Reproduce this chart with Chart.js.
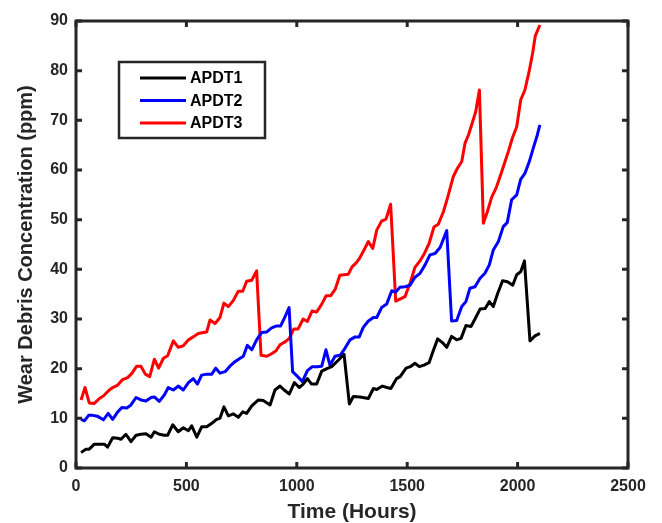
<!DOCTYPE html>
<html>
<head>
<meta charset="utf-8">
<script src="https://cdn.jsdelivr.net/npm/chart.js@4.4.0/dist/chart.umd.min.js"></script>
<style>
  html, body { margin: 0; padding: 0; background: #fff; }
  #wrap { width: 662px; height: 523px; position: relative; }
</style>
</head>
<body>
<div id="wrap"><canvas id="wearchart"></canvas></div>
<script>
// Wear debris readings
const hoursApdt1 = [23, 45, 60, 83, 106, 128, 143, 166, 189, 204, 226, 249, 272, 294, 317, 340, 355, 377, 400, 415,
  438, 463, 486, 509, 524, 547, 569, 592, 615, 637, 652, 670, 690, 713, 735, 755, 773, 796, 826, 848,
  879, 901, 924, 943, 966, 989, 1011, 1029, 1048, 1067, 1090, 1113, 1136, 1158, 1188, 1214, 1238, 1256, 1286, 1324,
  1347, 1362, 1388, 1408, 1426, 1452, 1468, 1495, 1514, 1535, 1555, 1576, 1599, 1618, 1638, 1658, 1679, 1701, 1724, 1744,
  1766, 1789, 1807, 1830, 1853, 1872, 1890, 1910, 1932, 1954, 1978, 1996, 2014, 2031, 2056, 2079, 2101];
const apdt1 = [3.1, 3.8, 3.8, 4.8, 4.8, 4.8, 4.2, 6.1, 6.0, 5.8, 6.8, 5.3, 6.6, 6.8, 6.9, 6.2, 7.3, 6.8, 6.6, 6.6,
  8.7, 7.3, 8.1, 7.5, 8.5, 6.2, 8.3, 8.3, 9.0, 9.8, 10.0, 12.3, 10.5, 10.9, 10.2, 11.3, 11.0, 12.5, 13.7, 13.6,
  12.7, 15.7, 16.5, 15.7, 14.9, 17.2, 16.2, 16.9, 18.0, 16.9, 16.9, 19.5, 20.0, 20.4, 21.7, 22.9, 12.9, 14.4, 14.3, 14.0,
  16.0, 15.8, 16.5, 16.2, 16.0, 18.0, 18.4, 20.1, 20.4, 21.1, 20.4, 20.7, 21.2, 23.6, 26.0, 25.3, 24.3, 26.5, 25.8, 26.1,
  28.7, 28.5, 30.0, 32.0, 32.1, 33.5, 32.5, 35.2, 37.7, 37.5, 36.8, 38.9, 39.5, 41.7, 25.6, 26.6, 27.1];

const hoursApdt2 = [23, 38, 57, 75, 98, 124, 146, 166, 189, 208, 230, 249, 272, 294, 317, 340, 355, 377, 400, 418,
  441, 463, 486, 509, 531, 550, 569, 592, 615, 633, 652, 675, 697, 720, 743, 758, 776, 796, 818, 841,
  864, 886, 909, 927, 947, 965, 981, 1004, 1025, 1048, 1070, 1093, 1113, 1132, 1150, 1173, 1196, 1218, 1241, 1264,
  1283, 1301, 1324, 1347, 1362, 1384, 1407, 1430, 1447, 1467, 1490, 1513, 1535, 1558, 1581, 1603, 1626, 1649, 1679, 1701,
  1724, 1747, 1766, 1784, 1807, 1830, 1852, 1872, 1890, 1913, 1935, 1953, 1973, 1996, 2014, 2033, 2053, 2071, 2089, 2101];
const apdt2 = [9.8, 9.5, 10.6, 10.6, 10.4, 9.7, 11.0, 9.8, 11.3, 12.2, 12.1, 12.7, 14.2, 13.7, 13.5, 14.2, 14.3, 13.4, 14.7, 16.2,
  15.7, 16.5, 15.7, 17.2, 18.0, 16.9, 18.7, 18.9, 18.9, 20.1, 19.1, 19.4, 20.5, 21.4, 22.1, 22.5, 24.7, 23.8, 25.8, 27.3,
  27.4, 28.2, 28.6, 28.6, 30.5, 32.3, 19.4, 18.4, 17.4, 19.6, 20.4, 20.4, 20.5, 23.8, 20.7, 22.5, 22.7, 24.1, 25.8, 26.4,
  26.4, 28.3, 29.6, 30.3, 30.3, 32.3, 33.0, 35.7, 35.4, 36.4, 36.5, 36.8, 38.4, 39.2, 40.9, 42.9, 43.2, 44.4, 47.8, 29.6,
  29.7, 32.5, 33.5, 36.2, 36.5, 38.2, 39.2, 40.9, 43.9, 45.6, 48.6, 49.4, 54.0, 55.0, 58.1, 59.3, 61.7, 64.4, 67.0, 69.1];

const hoursApdt3 = [23, 41, 60, 83, 106, 124, 146, 166, 189, 211, 234, 254, 275, 294, 314, 334, 355, 374, 396, 415,
  441, 463, 486, 509, 531, 554, 577, 592, 607, 630, 652, 670, 690, 712, 735, 755, 773, 796, 818, 838,
  864, 886, 906, 924, 947, 966, 987, 1006, 1029, 1048, 1069, 1090, 1113, 1133, 1154, 1174, 1195, 1213, 1233, 1250,
  1269, 1284, 1301, 1324, 1344, 1362, 1384, 1404, 1425, 1448, 1467, 1490, 1513, 1535, 1558, 1578, 1599, 1621, 1641, 1664,
  1682, 1709, 1727, 1747, 1762, 1777, 1792, 1810, 1827, 1845, 1863, 1883, 1902, 1920, 1938, 1958, 1976, 1996, 2014, 2033,
  2052, 2068, 2080, 2101];
const apdt3 = [13.7, 16.2, 13.1, 13.0, 14.0, 14.5, 15.5, 16.2, 16.7, 17.8, 18.2, 19.1, 20.5, 20.5, 18.9, 18.4, 21.9, 20.1, 22.1, 22.6,
  25.6, 24.3, 24.6, 25.8, 26.4, 27.1, 27.3, 27.4, 29.8, 29.1, 30.3, 33.2, 32.5, 33.7, 35.6, 35.6, 37.6, 37.8, 39.7, 22.7,
  22.5, 23.0, 23.6, 24.8, 25.4, 26.1, 28.0, 28.0, 30.0, 29.5, 31.6, 31.4, 33.0, 34.7, 34.7, 36.0, 38.8, 38.9, 39.0, 40.5,
  41.3, 42.2, 43.6, 45.6, 44.2, 47.9, 49.7, 50.1, 53.1, 33.6, 34.0, 34.5, 37.2, 40.4, 41.7, 43.2, 45.2, 48.5, 49.1, 51.6,
  54.3, 58.7, 60.3, 61.7, 65.4, 67.0, 69.1, 71.7, 76.1, 49.3, 51.6, 54.6, 56.3, 58.6, 61.0, 63.7, 66.4, 68.7, 74.1, 76.1,
  79.8, 83.5, 87.0, 89.2];

const seriesNames = ["APDT1", "APDT2", "APDT3"];
const seriesColors = ["#000000", "#0000ff", "#ff0000"];
const xTicks = [0, 500, 1000, 1500, 2000, 2500];
const yTicks = [0, 10, 20, 30, 40, 50, 60, 70, 80, 90];

const AXIS = "#262626";
const FONT = "'Liberation Sans', Arial, sans-serif";

function pairs(xs, ys) {
    return xs.map((h, i) => ({ x: h, y: ys[i] }));
}

// matlab-ish box with inward ticks
const boxPlugin = {
    id: "box",
    afterDatasetsDraw(chart) {
        const { ctx, chartArea: a, scales } = chart;
        ctx.save();
        ctx.strokeStyle = AXIS;
        ctx.lineWidth = 3;
        ctx.beginPath();
        xTicks.forEach(v => {
            const px = scales.x.getPixelForValue(v);
            ctx.moveTo(px, a.bottom); ctx.lineTo(px, a.bottom - 6);
            ctx.moveTo(px, a.top); ctx.lineTo(px, a.top + 6);
        });
        yTicks.forEach(v => {
            const py = scales.y.getPixelForValue(v);
            ctx.moveTo(a.left, py); ctx.lineTo(a.left + 6, py);
            ctx.moveTo(a.right, py); ctx.lineTo(a.right - 6, py);
        });
        ctx.stroke();
        ctx.strokeRect(a.left, a.top, a.right - a.left, a.bottom - a.top);
        ctx.restore();
    }
};

// legend box inside the plot, upper left
const legendPlugin = {
    id: "boxLegend",
    afterDraw(chart) {
        const ctx = chart.ctx;
        const bx = 119, by = 62, bw = 146, bh = 76;
        ctx.save();
        ctx.fillStyle = "#fff";
        ctx.fillRect(bx, by, bw, bh);
        ctx.strokeStyle = AXIS;
        ctx.lineWidth = 2.5;
        ctx.strokeRect(bx, by, bw, bh);
        ctx.font = "bold 16px " + FONT;
        ctx.textBaseline = "middle";
        chart.data.datasets.forEach((ds, i) => {
            const ly = 78 + i * 22.5;
            ctx.strokeStyle = ds.borderColor;
            ctx.lineWidth = 3;
            ctx.beginPath();
            ctx.moveTo(140, ly);
            ctx.lineTo(186, ly);
            ctx.stroke();
            ctx.fillStyle = "#000";
            ctx.fillText(ds.label, 190, ly + 1);
        });
        ctx.restore();
    }
};

const ctx = document.getElementById("wearchart").getContext("2d");

new Chart(ctx, {
    type: "line",
    data: {
        datasets: [
            { label: seriesNames[0], data: pairs(hoursApdt1, apdt1), borderColor: seriesColors[0] },
            { label: seriesNames[1], data: pairs(hoursApdt2, apdt2), borderColor: seriesColors[1] },
            { label: seriesNames[2], data: pairs(hoursApdt3, apdt3), borderColor: seriesColors[2] }
        ]
    },
    options: {
        responsive: true,
        maintainAspectRatio: false,
        animation: false,
        layout: { padding: { top: 21, right: 34, left: 0, bottom: 0 } },
        elements: {
            line: { borderWidth: 3, tension: 0, borderJoinStyle: "round" },
            point: { radius: 0 }
        },
        plugins: {
            legend: { display: false },
            tooltip: { enabled: false }
        },
        scales: {
            x: {
                type: "linear",
                min: 0,
                max: 2500,
                afterFit(scale) { scale.height = 55; },
                afterBuildTicks(scale) { scale.ticks = xTicks.map(v => ({ value: v })); },
                grid: { display: false, drawTicks: false },
                border: { display: false },
                ticks: {
                    padding: 9,
                    color: AXIS,
                    font: { family: FONT, size: 16, weight: "bold" },
                    maxRotation: 0,
                    callback: v => String(v)
                },
                title: {
                    display: true,
                    text: "Time (Hours)",
                    color: AXIS,
                    font: { family: FONT, size: 21, weight: "bold", lineHeight: 1 },
                    padding: { top: 0, bottom: 0 }
                }
            },
            y: {
                min: 0,
                max: 90,
                afterFit(scale) { scale.width = 76; },
                afterBuildTicks(scale) { scale.ticks = yTicks.map(v => ({ value: v })); },
                grid: { display: false, drawTicks: false },
                border: { display: false },
                ticks: {
                    padding: 8,
                    color: AXIS,
                    font: { family: FONT, size: 16, weight: "bold" },
                    callback: v => String(v)
                },
                title: {
                    display: true,
                    text: "Wear Debris Concentration (ppm)",
                    color: AXIS,
                    font: { family: FONT, size: 20, weight: "bold", lineHeight: 1 },
                    padding: { top: 16, bottom: 0 }
                }
            }
        }
    },
    plugins: [boxPlugin, legendPlugin]
});
</script>
</body>
</html>
